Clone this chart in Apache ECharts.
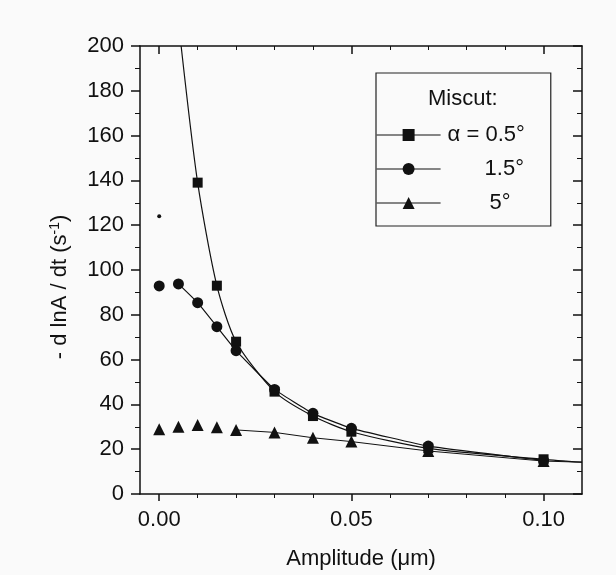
<!DOCTYPE html>
<html>
<head>
<meta charset="utf-8">
<script src="https://cdn.jsdelivr.net/npm/echarts@6/dist/echarts.min.js"></script>
<style>
  html, body { margin: 0; padding: 0; background: #fafafa; }
  #chart { width: 616px; height: 575px; }
</style>
</head>
<body>
<div id="chart"></div>
<script>
// values
const sqX = [0.01, 0.015, 0.02, 0.03, 0.04, 0.05, 0.07, 0.10];
const sqY = [139, 93, 68, 45.7, 34.8, 27.8, 20.4, 15.5];
// where the fitted curve for the 0.5° squares enters and leaves the frame
const fitStart = [0.0057, 200];
const fitEnd = [0.11, 14.2];
const strayPt = [0, 124];

const ciX = [0, 0.005, 0.01, 0.015, 0.02, 0.03, 0.04, 0.05, 0.07, 0.10];
const ciY = [92.9, 93.8, 85.4, 74.7, 64, 46.7, 36, 29.3, 21.4, 15];

const trX = [0, 0.005, 0.01, 0.015, 0.02, 0.03, 0.04, 0.05, 0.07, 0.10];
const trY = [28.9, 30, 30.8, 29.8, 28.6, 27.5, 25.1, 23.4, 19.2, 14.7];

const xMajor = [0, 0.05, 0.10];
const xMinor = [0.01, 0.02, 0.03, 0.04, 0.06, 0.07, 0.08, 0.09];

const names = ['α = 0.5°', '1.5°', '5°'];

const FONT = 'Liberation Sans, Arial, Helvetica, sans-serif';
const FS = 22;
const INK = '#111';

const pairs = (xs, ys) => xs.map((x, i) => [x, ys[i]]);

const sqData = [{ value: fitStart, symbol: 'none' }]
  .concat(pairs(sqX, sqY))
  .concat([{ value: fitEnd, symbol: 'none' }]);

const ciAll = pairs(ciX, ciY);
const trAll = pairs(trX, trY);

const myChart = echarts.init(document.getElementById('chart'));

const baseX = {
  type: 'value',
  min: -0.005,
  max: 0.11,
  splitLine: { show: false }
};

const option = {
  backgroundColor: '#fafafa',
  animation: false,
  grid: { left: 140, right: 34, top: 46, bottom: 81 },
  xAxis: [
    // bottom, labels + major ticks
    Object.assign({}, baseX, {
      position: 'bottom',
      name: 'Amplitude (μm)',
      nameLocation: 'middle',
      nameGap: 54,
      nameTextStyle: { fontFamily: FONT, fontSize: FS, color: INK },
      axisLine: { show: true, onZero: false, lineStyle: { color: INK, width: 1.5 } },
      axisTick: { show: true, length: 7, customValues: xMajor, lineStyle: { color: INK, width: 1.5 } },
      axisLabel: {
        customValues: xMajor,
        margin: 15,
        fontFamily: FONT, fontSize: FS, color: INK,
        formatter: v => v.toFixed(2)
      }
    }),
    // bottom minor ticks
    Object.assign({}, baseX, {
      position: 'bottom',
      axisLine: { show: false, onZero: false },
      axisTick: { show: true, length: 4, customValues: xMinor, lineStyle: { color: INK } },
      axisLabel: { show: false }
    }),
    // top frame, ticks point inward
    Object.assign({}, baseX, {
      position: 'top',
      axisLine: { show: true, onZero: false, lineStyle: { color: INK, width: 1.5 } },
      axisTick: { show: true, inside: true, length: 8, customValues: xMajor, lineStyle: { color: INK, width: 1.5 } },
      axisLabel: { show: false }
    }),
    Object.assign({}, baseX, {
      position: 'top',
      axisLine: { show: false, onZero: false },
      axisTick: { show: true, inside: true, length: 4, customValues: xMinor, lineStyle: { color: INK } },
      axisLabel: { show: false }
    })
  ],
  yAxis: [
    {
      type: 'value',
      position: 'left',
      min: 0, max: 200, interval: 20,
      name: '- d lnA / dt (s{sup|-1})',
      nameLocation: 'middle',
      nameGap: 68,
      nameTextStyle: {
        fontFamily: FONT, fontSize: FS, color: INK,
        padding: [0, 34, 0, 0],
        rich: { sup: { fontFamily: FONT, fontSize: 14, color: INK, verticalAlign: 'top', padding: [0, 0, 10, 0] } }
      },
      splitLine: { show: false },
      axisLine: { show: true, onZero: false, lineStyle: { color: INK, width: 1.5 } },
      axisTick: { show: true, length: 9, lineStyle: { color: INK, width: 1.5 } },
      minorTick: { show: true, splitNumber: 2, length: 5, lineStyle: { color: INK } },
      axisLabel: { margin: 16, fontFamily: FONT, fontSize: FS, color: INK }
    },
    {
      type: 'value',
      position: 'right',
      min: 0, max: 200, interval: 20,
      splitLine: { show: false },
      axisLine: { show: true, onZero: false, lineStyle: { color: INK, width: 1.5 } },
      axisTick: { show: true, inside: true, length: 9, lineStyle: { color: INK, width: 1.5 } },
      minorTick: { show: true, splitNumber: 2, length: 5, lineStyle: { color: INK } },
      axisLabel: { show: false }
    }
  ],
  legend: {
    orient: 'vertical',
    left: 376,
    top: 73,
    data: names,
    itemWidth: 64,
    itemHeight: 15,
    itemGap: 12,
    padding: [51, 26, 12, 0],
    borderColor: '#222',
    borderWidth: 1.2,
    selectedMode: false,
    lineStyle: { color: INK, width: 1.2 },
    formatter: n => '{' + ['a', 'b', 'c'][names.indexOf(n)] + '|' + n + '}',
    textStyle: {
      color: INK,
      rich: {
        a: { fontFamily: FONT, fontSize: FS, color: INK, padding: [0, 0, 0, 2] },
        b: { fontFamily: FONT, fontSize: FS, color: INK, padding: [0, 0, 0, 39] },
        c: { fontFamily: FONT, fontSize: FS, color: INK, padding: [0, 0, 0, 44] }
      }
    }
  },
  graphic: [
    {
      type: 'text',
      left: 428,
      top: 88,
      style: { text: 'Miscut:', font: FS + 'px ' + FONT, fill: INK }
    }
  ],
  series: [
    {
      name: names[0],
      type: 'line',
      data: sqData,
      smooth: 0.25,
      symbol: 'rect',
      symbolSize: 10,
      itemStyle: { color: INK, opacity: 1 },
      lineStyle: { color: INK, width: 1.2 },
      z: 3
    },
    {
      name: 'stray',
      type: 'scatter',
      data: [strayPt],
      symbol: 'circle',
      symbolSize: 4,
      itemStyle: { color: INK, opacity: 1 }
    },
    {
      name: names[1],
      type: 'line',
      data: ciAll.slice(1),
      smooth: 0.1,
      symbol: 'circle',
      symbolSize: 11,
      itemStyle: { color: INK, opacity: 1 },
      lineStyle: { color: INK, width: 1.2 }
    },
    {
      name: 'ci0',
      type: 'scatter',
      data: ciAll.slice(0, 1),
      symbol: 'circle',
      symbolSize: 11,
      itemStyle: { color: INK, opacity: 1 }
    },
    {
      name: names[2],
      type: 'line',
      data: trAll.slice(4).concat([{ value: fitEnd, symbol: 'none' }]),
      symbol: 'triangle',
      symbolSize: 12,
      itemStyle: { color: INK, opacity: 1 },
      lineStyle: { color: INK, width: 1 }
    },
    {
      name: 'tr0',
      type: 'scatter',
      data: trAll.slice(0, 4),
      symbol: 'triangle',
      symbolSize: 12,
      itemStyle: { color: INK, opacity: 1 }
    }
  ]
};

myChart.setOption(option);
</script>
</body>
</html>
